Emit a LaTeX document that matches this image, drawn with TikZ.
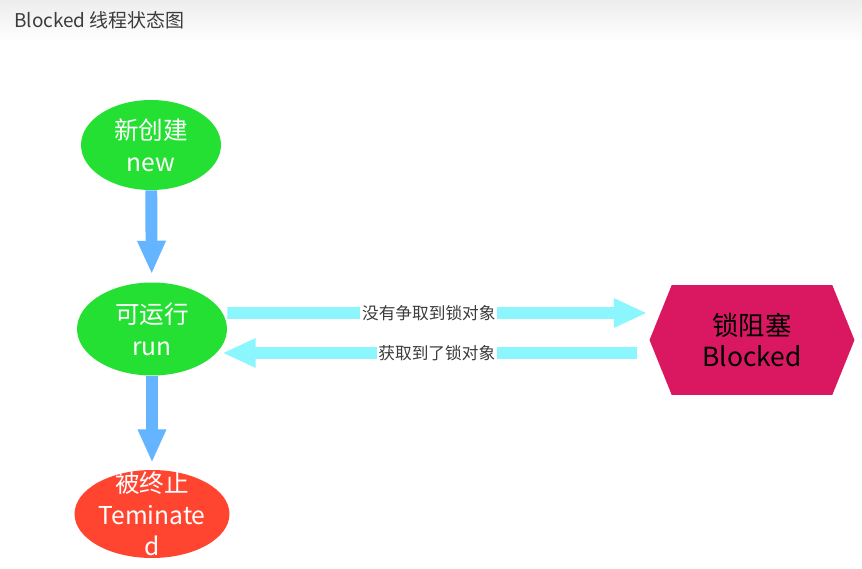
\documentclass[tikz,border=0pt]{standalone}
\usepackage{fontspec}
\setmainfont{Noto Sans CJK SC}
\usetikzlibrary{arrows.meta,shapes.geometric,shapes.symbols}
\definecolor{stgreen}{RGB}{35,224,50}
\definecolor{stred}{RGB}{255,69,48}
\definecolor{lockred}{RGB}{218,24,98}
\definecolor{flowblue}{RGB}{100,180,255}
\definecolor{lockcyan}{RGB}{140,246,255}
\definecolor{txtgray}{RGB}{60,60,60}

\begin{document}
\begin{tikzpicture}[x=0.02cm,y=-0.02cm,
  state/.style={ellipse,inner sep=0pt,text=white,align=center,
    font=\fontsize{14}{18}\selectfont},
  lockbox/.style={signal,signal to=west and east,signal pointer angle=136,
    fill=lockred,inner sep=0pt,minimum width=4.1cm,minimum height=2.2cm,
    align=center,font=\fontsize{15}{17.6}\selectfont},
  flow/.style={flowblue,line width=6.8pt,
    -{Triangle[length=19pt,width=15pt]}},
  lockflow/.style={lockcyan,line width=6.8pt,
    -{Triangle[length=19pt,width=15.5pt]}},
  edgelabel/.style={fill=white,inner sep=1pt,text=txtgray,
    font=\fontsize{9.5}{11}\selectfont}]
\useasboundingbox (0,0) rectangle (862,568);
\shade[top color=gray!14,bottom color=white] (0,0) rectangle (862,42);
\node[anchor=west,text=txtgray,font=\fontsize{10.8}{12}\selectfont] (title) at (8,20) {Blocked 线程状态图};

\node[state,fill=stgreen,minimum width=2.8cm,minimum height=1.8cm] (new) at (151,145) {新创建\\new};
\node[state,fill=stgreen,minimum width=3cm,minimum height=1.86cm] (run) at (152,329) {可运行\\run};
\node[state,fill=stred,minimum width=3.1cm,minimum height=1.76cm,
  label={[text=white,align=center,font=\fontsize{14}{18}\selectfont]center:被终止\\Teminate\\d}] (term) at (152,514) {};
\node[lockbox] (blocked) at (752,340) {锁阻塞\\Blocked};

\draw[flow,shorten >=0.16cm] (new) -- (run);
\draw[flow,shorten >=0.14cm] (run) -- (term);
\draw[lockflow] ([yshift=0.32cm]run.east) -- ([xshift=-0.04cm,yshift=0.54cm]blocked.west)
  node[edgelabel,pos=0.48] {没有争取到锁对象};
\draw[lockflow] ([xshift=-0.24cm,yshift=-0.26cm]blocked.west) -- ([xshift=-0.1cm,yshift=-0.48cm]run.east)
  node[edgelabel,pos=0.483] {获取到了锁对象};
\end{tikzpicture}
\end{document}
